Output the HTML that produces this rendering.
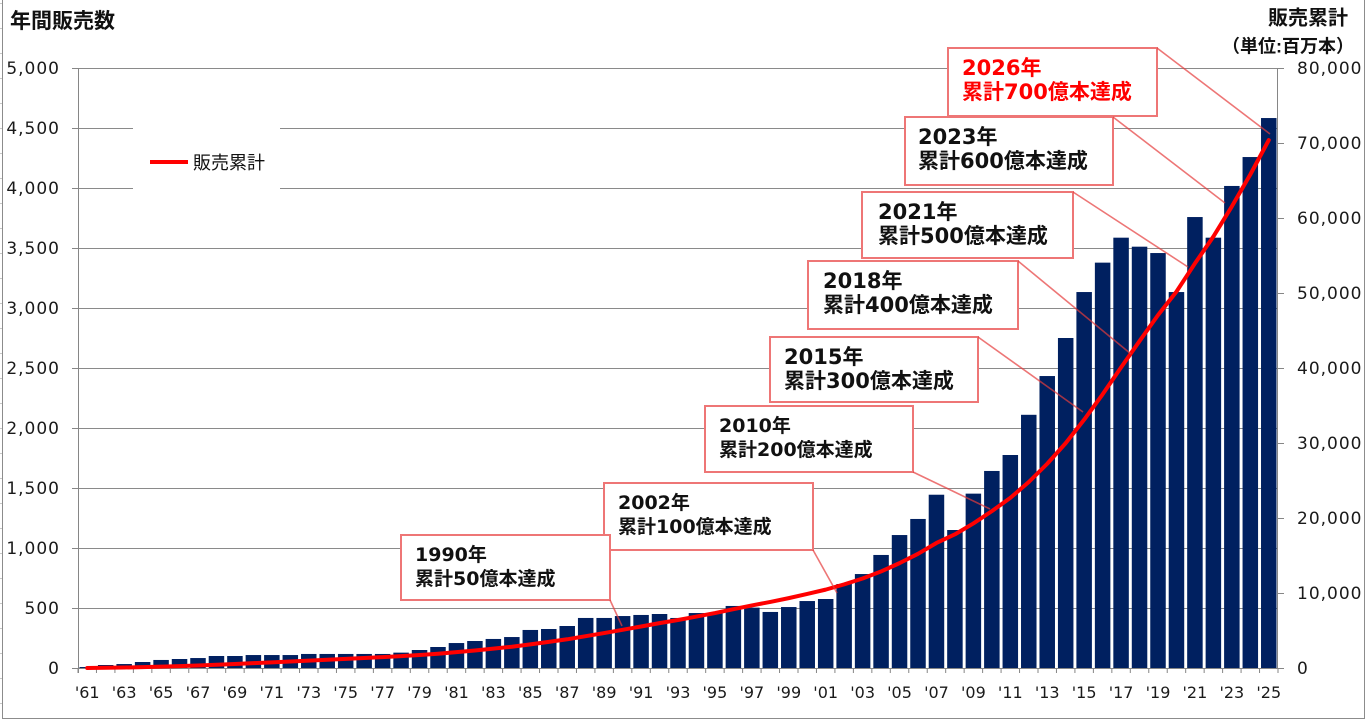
<!DOCTYPE html>
<html>
<head>
<meta charset="utf-8">
<style>
html,body{margin:0;padding:0;background:#fff;}
svg{display:block;}
.ax{font-family:"DejaVu Sans","Liberation Sans",sans-serif;font-size:17px;fill:#1a1a1a;letter-spacing:1px;}
.xl{font-family:"DejaVu Sans","Liberation Sans",sans-serif;font-size:16px;fill:#1a1a1a;}
.ttl{font-family:"Liberation Sans","Noto Sans CJK JP",sans-serif;font-weight:bold;fill:#111;}
.cb{font-family:"DejaVu Sans","Noto Sans CJK JP",sans-serif;font-weight:bold;fill:#111;}
</style>
</head>
<body>
<svg width="1367" height="720" viewBox="0 0 1367 720" xmlns="http://www.w3.org/2000/svg">
<rect x="0" y="0" width="1367" height="720" fill="#fff"/>
<g stroke="#c8c8c8" stroke-width="1">
<path d="M0 3.5H2.5M0 28.5H2.5M0 53.5H2.5M0 78.5H2.5M0 103.5H2.5M0 128.5H2.5M0 153.5H2.5M0 178.5H2.5M0 203.5H2.5M0 228.5H2.5M0 253.5H2.5M0 278.5H2.5M0 303.5H2.5M0 328.5H2.5M0 353.5H2.5M0 378.5H2.5M0 403.5H2.5M0 428.5H2.5M0 453.5H2.5M0 478.5H2.5M0 503.5H2.5M0 528.5H2.5M0 553.5H2.5M0 578.5H2.5M0 603.5H2.5M0 628.5H2.5M0 653.5H2.5M0 678.5H2.5M0 703.5H2.5"/>
</g>
<path d="M2.5 0V718.5H1364.5V0" fill="none" stroke="#8c8c8c" stroke-width="1"/>

<g stroke="#8a8a8a" stroke-width="1">
<path d="M78 68.5H1278M78 128.5H1278M78 188.5H1278M78 248.5H1278M78 308.5H1278M78 368.5H1278M78 428.5H1278M78 488.5H1278M78 548.5H1278M78 608.5H1278"/>
</g>

<rect x="133" y="110" width="147" height="90" fill="#fff"/>
<line x1="150" y1="162" x2="188" y2="162" stroke="#ff0000" stroke-width="4"/>
<text x="193" y="169" font-family="Liberation Sans, Noto Sans CJK JP, sans-serif" font-size="18" fill="#111">販売累計</text>

<g transform="translate(0,668) scale(1,-0.12)" fill="#002060">
<rect x="79.48" y="0" width="15.5" height="8"/>
<rect x="97.94" y="0" width="15.5" height="25"/>
<rect x="116.40" y="0" width="15.5" height="33"/>
<rect x="134.87" y="0" width="15.5" height="50"/>
<rect x="153.33" y="0" width="15.5" height="67"/>
<rect x="171.79" y="0" width="15.5" height="75"/>
<rect x="190.25" y="0" width="15.5" height="83"/>
<rect x="208.71" y="0" width="15.5" height="100"/>
<rect x="227.17" y="0" width="15.5" height="100"/>
<rect x="245.63" y="0" width="15.5" height="108"/>
<rect x="264.10" y="0" width="15.5" height="108"/>
<rect x="282.56" y="0" width="15.5" height="108"/>
<rect x="301.02" y="0" width="15.5" height="117"/>
<rect x="319.48" y="0" width="15.5" height="117"/>
<rect x="337.94" y="0" width="15.5" height="117"/>
<rect x="356.40" y="0" width="15.5" height="117"/>
<rect x="374.87" y="0" width="15.5" height="117"/>
<rect x="393.33" y="0" width="15.5" height="128"/>
<rect x="411.79" y="0" width="15.5" height="150"/>
<rect x="430.25" y="0" width="15.5" height="175"/>
<rect x="448.71" y="0" width="15.5" height="208"/>
<rect x="467.17" y="0" width="15.5" height="225"/>
<rect x="485.63" y="0" width="15.5" height="242"/>
<rect x="504.10" y="0" width="15.5" height="258"/>
<rect x="522.56" y="0" width="15.5" height="317"/>
<rect x="541.02" y="0" width="15.5" height="325"/>
<rect x="559.48" y="0" width="15.5" height="350"/>
<rect x="577.94" y="0" width="15.5" height="417"/>
<rect x="596.40" y="0" width="15.5" height="417"/>
<rect x="614.87" y="0" width="15.5" height="433"/>
<rect x="633.33" y="0" width="15.5" height="442"/>
<rect x="651.79" y="0" width="15.5" height="450"/>
<rect x="670.25" y="0" width="15.5" height="417"/>
<rect x="688.71" y="0" width="15.5" height="458"/>
<rect x="707.17" y="0" width="15.5" height="460"/>
<rect x="725.63" y="0" width="15.5" height="517"/>
<rect x="744.10" y="0" width="15.5" height="503"/>
<rect x="762.56" y="0" width="15.5" height="467"/>
<rect x="781.02" y="0" width="15.5" height="508"/>
<rect x="799.48" y="0" width="15.5" height="558"/>
<rect x="817.94" y="0" width="15.5" height="575"/>
<rect x="836.40" y="0" width="15.5" height="700"/>
<rect x="854.87" y="0" width="15.5" height="783"/>
<rect x="873.33" y="0" width="15.5" height="942"/>
<rect x="891.79" y="0" width="15.5" height="1108"/>
<rect x="910.25" y="0" width="15.5" height="1242"/>
<rect x="928.71" y="0" width="15.5" height="1444"/>
<rect x="947.17" y="0" width="15.5" height="1150"/>
<rect x="965.63" y="0" width="15.5" height="1453"/>
<rect x="984.10" y="0" width="15.5" height="1642"/>
<rect x="1002.56" y="0" width="15.5" height="1775"/>
<rect x="1021.02" y="0" width="15.5" height="2110"/>
<rect x="1039.48" y="0" width="15.5" height="2433"/>
<rect x="1057.94" y="0" width="15.5" height="2750"/>
<rect x="1076.40" y="0" width="15.5" height="3133"/>
<rect x="1094.87" y="0" width="15.5" height="3378"/>
<rect x="1113.33" y="0" width="15.5" height="3586"/>
<rect x="1131.79" y="0" width="15.5" height="3511"/>
<rect x="1150.25" y="0" width="15.5" height="3458"/>
<rect x="1168.71" y="0" width="15.5" height="3133"/>
<rect x="1187.17" y="0" width="15.5" height="3758"/>
<rect x="1205.63" y="0" width="15.5" height="3586"/>
<rect x="1224.10" y="0" width="15.5" height="4017"/>
<rect x="1242.56" y="0" width="15.5" height="4258"/>
<rect x="1261.02" y="0" width="15.5" height="4583"/>
</g>

<g stroke="#868686" stroke-width="1" fill="none">
<path d="M78.5 68V673M1277.5 68V668.5M72 668.5H1284"/>
<path d="M72 68.5H78M72 128.5H78M72 188.5H78M72 248.5H78M72 308.5H78M72 368.5H78M72 428.5H78M72 488.5H78M72 548.5H78M72 608.5H78"/>
<path d="M1278 68.5H1284M1278 143.5H1284M1278 218.5H1284M1278 293.5H1284M1278 368.5H1284M1278 443.5H1284M1278 518.5H1284M1278 593.5H1284"/>
</g>
<line x1="77.5" y1="670.5" x2="1280" y2="670.5" stroke="#868686" stroke-width="5" stroke-dasharray="1 17.4615"/>

<g transform="translate(0,668) scale(1,-0.0075)">
<polyline fill="none" stroke="#ff0000" stroke-width="4" stroke-linejoin="round" stroke-linecap="round" vector-effect="non-scaling-stroke"
points="87.23,8 105.69,33 124.15,66 142.62,116 161.08,183 179.54,258 198.00,341 216.46,441 234.92,541 253.38,649 271.85,757 290.31,865 308.77,982 327.23,1099 345.69,1216 364.15,1333 382.62,1450 401.08,1578 419.54,1728 438.00,1903 456.46,2111 474.92,2336 493.38,2578 511.85,2836 530.31,3153 548.77,3478 567.23,3828 585.69,4245 604.15,4662 622.62,5095 641.08,5537 659.54,5987 678.00,6404 696.46,6862 714.92,7322 733.38,7839 751.85,8342 770.31,8809 788.77,9317 807.23,9875 825.69,10450 844.15,11150 862.62,11933 881.08,12875 899.54,13983 918.00,15225 936.46,16669 954.92,17819 973.38,19272 991.85,20914 1010.31,22689 1028.77,24799 1047.23,27232 1065.69,29982 1084.15,33115 1102.62,36493 1121.08,40079 1139.54,43590 1158.00,47048 1176.46,50181 1194.92,53939 1213.38,57525 1231.85,61542 1250.31,65800 1268.77,70383"/>
</g>

<g class="ax" text-anchor="end">
<text x="60" y="74">5,000</text>
<text x="60" y="134">4,500</text>
<text x="60" y="194">4,000</text>
<text x="60" y="254">3,500</text>
<text x="60" y="314">3,000</text>
<text x="60" y="374">2,500</text>
<text x="60" y="434">2,000</text>
<text x="60" y="494">1,500</text>
<text x="60" y="554">1,000</text>
<text x="60" y="614">500</text>
<text x="60" y="674">0</text>
</g>
<g class="ax">
<text x="1297" y="74">80,000</text>
<text x="1297" y="149">70,000</text>
<text x="1297" y="224">60,000</text>
<text x="1297" y="299">50,000</text>
<text x="1297" y="374">40,000</text>
<text x="1297" y="449">30,000</text>
<text x="1297" y="524">20,000</text>
<text x="1297" y="599">10,000</text>
<text x="1297" y="674">0</text>
</g>
<g class="xl" text-anchor="middle">
<text x="87.23" y="698">'61</text>
<text x="124.15" y="698">'63</text>
<text x="161.08" y="698">'65</text>
<text x="198.00" y="698">'67</text>
<text x="234.92" y="698">'69</text>
<text x="271.85" y="698">'71</text>
<text x="308.77" y="698">'73</text>
<text x="345.69" y="698">'75</text>
<text x="382.62" y="698">'77</text>
<text x="419.54" y="698">'79</text>
<text x="456.46" y="698">'81</text>
<text x="493.38" y="698">'83</text>
<text x="530.31" y="698">'85</text>
<text x="567.23" y="698">'87</text>
<text x="604.15" y="698">'89</text>
<text x="641.08" y="698">'91</text>
<text x="678.00" y="698">'93</text>
<text x="714.92" y="698">'95</text>
<text x="751.85" y="698">'97</text>
<text x="788.77" y="698">'99</text>
<text x="825.69" y="698">'01</text>
<text x="862.62" y="698">'03</text>
<text x="899.54" y="698">'05</text>
<text x="936.46" y="698">'07</text>
<text x="973.38" y="698">'09</text>
<text x="1010.31" y="698">'11</text>
<text x="1047.23" y="698">'13</text>
<text x="1084.15" y="698">'15</text>
<text x="1121.08" y="698">'17</text>
<text x="1158.00" y="698">'19</text>
<text x="1194.92" y="698">'21</text>
<text x="1231.85" y="698">'23</text>
<text x="1268.77" y="698">'25</text>
</g>

<text class="ttl" x="10" y="28" font-size="21">年間販売数</text>
<text class="ttl" x="1268" y="24.5" font-size="20">販売累計</text>
<text class="ttl" x="1354" y="52.5" font-size="18" text-anchor="end">（単位:百万本）</text>

<g fill="#fff" stroke="#ee7676" stroke-width="2">
<rect x="948" y="48" width="209" height="68"/>
<rect x="905" y="117" width="208" height="68"/>
<rect x="862" y="192" width="211" height="66"/>
<rect x="808" y="261" width="210" height="68"/>
<rect x="770" y="337" width="208" height="65"/>
<rect x="705" y="406" width="208" height="66"/>
<rect x="604" y="483" width="209" height="67"/>
<rect x="401" y="535" width="209" height="65"/>
</g>
<g stroke="rgb(230,60,60)" stroke-opacity="0.7" stroke-width="1.6" fill="none">
<line x1="1157" y1="48" x2="1270" y2="134"/>
<line x1="1113" y1="117" x2="1225" y2="203"/>
<line x1="1073" y1="192" x2="1188" y2="267"/>
<line x1="1018" y1="261" x2="1131" y2="354"/>
<line x1="978" y1="337" x2="1083" y2="412"/>
<line x1="913" y1="472" x2="990" y2="509"/>
<line x1="813" y1="550" x2="837" y2="593"/>
<line x1="610" y1="600" x2="622" y2="626"/>
</g>

<g class="cb" font-size="21">
<text x="962" y="74.8" fill="#ff0000">2026年</text>
<text x="962" y="98.8" fill="#ff0000">累計700億本達成</text>
<text x="918" y="143.8">2023年</text>
<text x="918" y="167.8">累計600億本達成</text>
<text x="878" y="218.8">2021年</text>
<text x="878" y="242.8">累計500億本達成</text>
<text x="823" y="287.8">2018年</text>
<text x="823" y="311.8">累計400億本達成</text>
<text x="784" y="363.8">2015年</text>
<text x="784" y="387.8">累計300億本達成</text>
</g>
<g class="cb" font-size="19">
<text x="719" y="432">2010年</text>
<text x="719" y="456">累計200億本達成</text>
<text x="618" y="509">2002年</text>
<text x="618" y="533">累計100億本達成</text>
<text x="415" y="561">1990年</text>
<text x="415" y="585">累計50億本達成</text>
</g>
</svg>
</body>
</html>
